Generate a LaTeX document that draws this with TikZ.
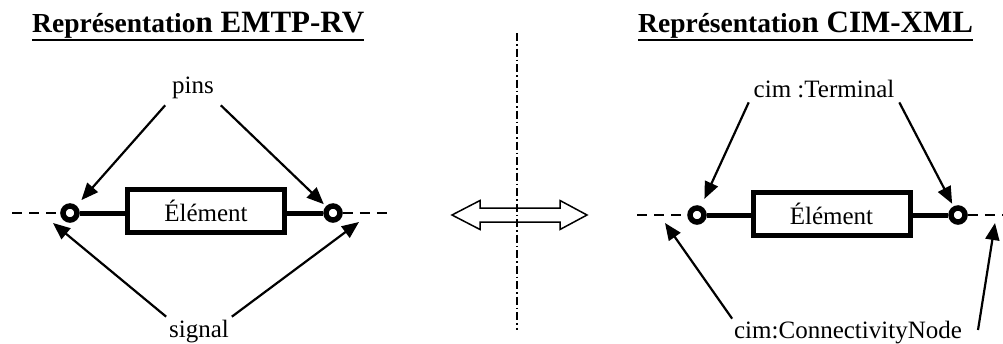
\documentclass[tikz,border=0pt]{standalone}
\usepackage{fontspec}
\setmainfont{Liberation Serif}
\usetikzlibrary{arrows.meta}
\newcommand\ttlA{\fontsize{27.5}{31}\selectfont\bfseries}
\newcommand\ttlB{\fontsize{31}{35}\selectfont\bfseries}
\begin{document}
\begin{tikzpicture}[x=1pt,y=-1pt,
  lbl/.style={font=\fontsize{25}{28}\selectfont, inner sep=0pt},
  ttl/.style={anchor=base west, inner sep=0pt},
  uline/.style={line width=2.5pt},
  arr/.style={line width=2.2pt, -{Triangle[length=17pt,width=14pt]}},
  pin/.style={circle, draw, line width=5.5pt, minimum size=14pt, inner sep=0pt, fill=white},
  wire/.style={line width=5pt},
  elem/.style={draw, line width=5pt, minimum width=157pt, minimum height=43pt, inner sep=0pt,
    font=\fontsize{25}{28}\selectfont},
  dsh/.style={line width=1.6pt, dash pattern=on 10pt off 7pt},
  dashdot/.style={line width=1.5pt, dash pattern=on 8pt off 3pt on 1.5pt off 3pt},
  dbl/.style={line width=1.5pt, line join=miter}
]
\useasboundingbox (0,0) rectangle (1003,343);

% ---------- left panel ----------
\node[ttl] (t1) at (32,32) {\ttlA Représentatio\ttlB n EMTP-RV};
\draw[uline] ([yshift=-8pt]t1.base west) -- ([yshift=-8pt]t1.base east);

\node[elem] (e1) at (206,211) {Élément};
\node[pin] (lc1) at (70,213) {};
\node[pin] (rc1) at (333,213) {};
\coordinate (ld1) at (12,213);
\coordinate (rd1) at (389,213);
\draw[wire] (lc1.east) -- (lc1.east -| e1.west);
\draw[wire] (e1.east |- rc1.west) -- (rc1.west);
\draw[dsh] (ld1) -- (lc1.west);
\draw[dsh] (rc1.east) -- (rd1);

\node[lbl, anchor=base, outer sep=7pt] (pins) at (193,93) {pins};
\node[lbl, anchor=base, outer sep=3pt] (sig) at (199,337) {signal};
\coordinate (sl1) at (53,223);
\coordinate (sr1) at (359,222);
\draw[arr, shorten >=7.5pt] (pins.south west) -- (lc1);
\draw[arr, shorten >=3pt] (pins.south east) -- (rc1);
\draw[arr] (sig.north west) -- (sl1);
\draw[arr] (sig.north east) -- (sr1);

% ---------- centre ----------
\draw[dbl] (452,215) -- (480,200.5) -- (480,208) -- (560,208) -- (560,200.5) -- (587,215)
  -- (560,229.5) -- (560,222) -- (480,222) -- (480,229.5) -- cycle;
\draw[dashdot] (517,33) -- (517,330);

% ---------- right panel ----------
\node[ttl] (t2) at (638,32) {\ttlA Représentatio\ttlB n CIM-XML};
\draw[uline] ([yshift=-8pt]t2.base west) -- ([yshift=-8pt]t2.base east);

\node[elem] (e2) at (831.5,214) {Élément};
\node[pin] (lc2) at (697,215) {};
\node[pin] (rc2) at (958,215) {};
\coordinate (ld2) at (637,215);
\coordinate (rd2) at (1003,215);
\draw[wire] (lc2.east) -- (lc2.east -| e2.west);
\draw[wire] (e2.east |- rc2.west) -- (rc2.west);
\draw[dsh] (ld2) -- (lc2.west);
\draw[dsh] (rc2.east) -- (rd2);

\node[lbl, anchor=base, outer sep=5pt] (term) at (824,97) {cim :Terminal};
\node[lbl, anchor=base, outer sep=2pt] (conn) at (848,338) {cim:ConnectivityNode};
\coordinate (cl2) at (665,223);
\coordinate (cr2) at (995,223);
\coordinate (ct2) at (978,330);
\draw[arr, shorten >=8pt] (term.south west) -- (lc2);
\draw[arr, shorten >=3pt] (term.south east) -- (rc2);
\draw[arr] (conn.north west) -- (cl2);
\draw[arr] (ct2) -- (cr2);
\end{tikzpicture}
\end{document}
